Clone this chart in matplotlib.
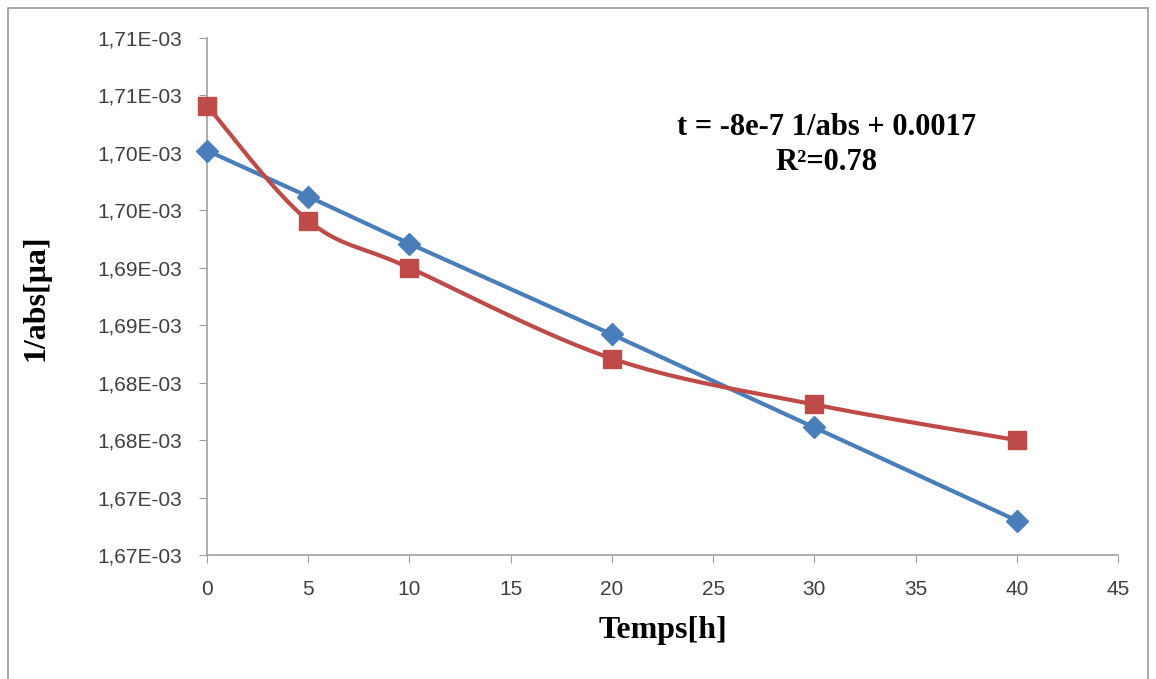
import numpy as np
import matplotlib.pyplot as plt
from matplotlib.patches import Rectangle
from matplotlib.ticker import FuncFormatter, MultipleLocator

# données
temps = [0, 5, 10, 20, 30, 40]
serie_bleue = [1.7002e-3, 1.6962e-3, 1.6921e-3, 1.6842e-3, 1.6761e-3, 1.6680e-3]
serie_rouge = [1.7041e-3, 1.6941e-3, 1.6900e-3, 1.6821e-3, 1.6781e-3, 1.6750e-3]
equation = "t = -8e-7 1/abs + 0.0017\nR²=0.78"


# lissage façon Excel (Catmull-Rom) uniquement pour le tracé de la courbe
def lisser(x, y, n=30):
    x = np.asarray(x, float)
    y = np.asarray(y, float)
    px = np.concatenate([[x[0]], x, [x[-1]]])
    py = np.concatenate([[y[0]], y, [y[-1]]])
    xs, ys = [], []
    t = np.linspace(0, 1, n)
    for i in range(1, len(px) - 2):
        p0, p1, p2, p3 = (np.array([px[j], py[j]]) for j in range(i - 1, i + 3))
        c1 = p1 + (p2 - p0) / 6
        c2 = p2 - (p3 - p1) / 6
        b = ((1 - t) ** 3)[:, None] * p1 + (3 * (1 - t) ** 2 * t)[:, None] * c1 \
            + (3 * (1 - t) * t ** 2)[:, None] * c2 + (t ** 3)[:, None] * p2
        xs.extend(b[:, 0])
        ys.extend(b[:, 1])
    return xs, ys


def fmt(v, pos):
    m = int(v * 1e5 + 0.5 + 1e-6) / 100
    return f"{m:.2f}".replace(".", ",") + "E-03"


bleu = "#4A7EBB"
rouge = "#BE4B48"

fig = plt.figure(figsize=(11.56, 6.79), dpi=100)
fig.patches.append(Rectangle((8 / 1156, -0.05), 1140 / 1156, 1 - 8 / 679 + 0.05,
                             transform=fig.transFigure, fill=False,
                             edgecolor="#9a9a9a", linewidth=1.2))
ax = fig.add_axes([207 / 1156, 1 - 555 / 679, (1118 - 207) / 1156, (555 - 38) / 679])

ax.plot(temps, serie_bleue, color=bleu, linewidth=3, marker="D", markersize=11,
        markerfacecolor=bleu, markeredgecolor=bleu, zorder=3, clip_on=False)
xs, ys = lisser(temps, serie_rouge)
ax.plot(xs, ys, color=rouge, linewidth=3, zorder=3, clip_on=False)
ax.plot(temps, serie_rouge, linestyle="none", marker="s", markersize=13,
        markerfacecolor=rouge, markeredgecolor=rouge, zorder=4, clip_on=False)

ax.set_xlim(0, 45)
ax.set_ylim(1.665e-3, 1.710e-3)
ax.xaxis.set_major_locator(MultipleLocator(5))
ax.set_yticks(np.linspace(1.665e-3, 1.710e-3, 10))
ax.yaxis.set_major_formatter(FuncFormatter(fmt))

for s in ["top", "right"]:
    ax.spines[s].set_visible(False)
for s in ["left", "bottom"]:
    ax.spines[s].set_color("#a0a0a0")
    ax.spines[s].set_linewidth(1.2)
ax.tick_params(colors="#a0a0a0", labelcolor="#404040", labelsize=15, length=6)
ax.tick_params(axis="x", pad=12)
ax.tick_params(axis="y", pad=12)
for lab in ax.get_xticklabels() + ax.get_yticklabels():
    lab.set_family("Liberation Sans")

ax.set_xlabel("Temps[h]", family="Liberation Serif", fontweight="bold", fontsize=23)
ax.set_ylabel("1/abs[μa]", family="Liberation Serif", fontweight="bold", fontsize=23)
ax.xaxis.set_label_coords(0.5, -0.118)
ax.yaxis.set_label_coords(-0.172, 0.497)

ax.text(0.68, 0.793, equation, transform=ax.transAxes, ha="center", va="center",
        family="Liberation Serif", fontweight="bold", fontsize=22, linespacing=1.25)

fig.savefig("out.png", dpi=100)
